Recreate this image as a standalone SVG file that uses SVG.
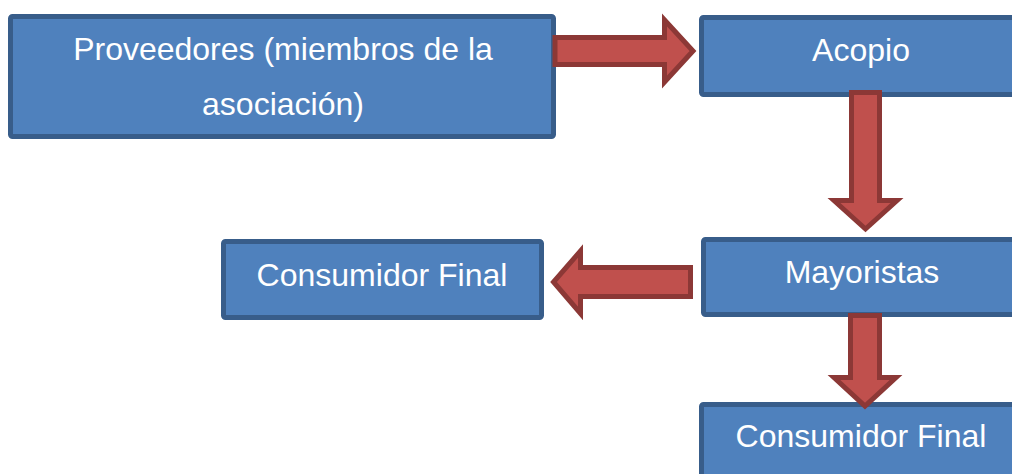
<svg xmlns="http://www.w3.org/2000/svg" width="1012" height="474" viewBox="0 0 1012 474">
<style>
.box{fill:#4f81bd;stroke:#385d8a;stroke-width:5}
.arr{fill:#c0504d;stroke:#8c3836;stroke-width:5;stroke-linejoin:miter}
.t{fill:#ffffff;font-family:"Liberation Sans",Arial,sans-serif;font-size:32px;text-anchor:middle}
</style>
<rect width="1012" height="474" fill="#ffffff"/>
<g id="proveedores">
<rect class="box" x="10.5" y="16.5" width="543" height="120" rx="2"/>
<text class="t" x="283" y="60">Proveedores (miembros de la</text>
<text class="t" x="283" y="115">asociación)</text>
</g>
<g id="acopio">
<rect class="box" x="701.5" y="17.5" width="330" height="77" rx="2"/>
<text class="t" x="861" y="61">Acopio</text>
</g>
<g id="mayoristas">
<rect class="box" x="703.5" y="239.5" width="330" height="75" rx="2"/>
<text class="t" x="862" y="283">Mayoristas</text>
</g>
<g id="consumidor1">
<rect class="box" x="223.5" y="241.5" width="318" height="76" rx="2"/>
<text class="t" x="382" y="286">Consumidor Final</text>
</g>
<g id="consumidor2">
<rect class="box" x="701.5" y="404.5" width="330" height="90" rx="2"/>
<text class="t" x="861" y="447">Consumidor Final</text>
</g>
<g id="connectors">
<polygon class="arr" points="555,37.5 664.5,37.5 664.5,20 693,51 664.5,82 664.5,64.5 555,64.5"/>
<polygon class="arr" points="851.5,92.5 879.5,92.5 879.5,200.5 897,200.5 865.5,229 834,200.5 851.5,200.5"/>
<polygon class="arr" points="690.5,267.5 580.5,267.5 580.5,251 553.5,282 580.5,313.5 580.5,296.5 690.5,296.5"/>
<polygon class="arr" points="850.5,315.5 879.5,315.5 879.5,377.5 896,377.5 865,406 834,377.5 850.5,377.5"/>
</g>
</svg>
